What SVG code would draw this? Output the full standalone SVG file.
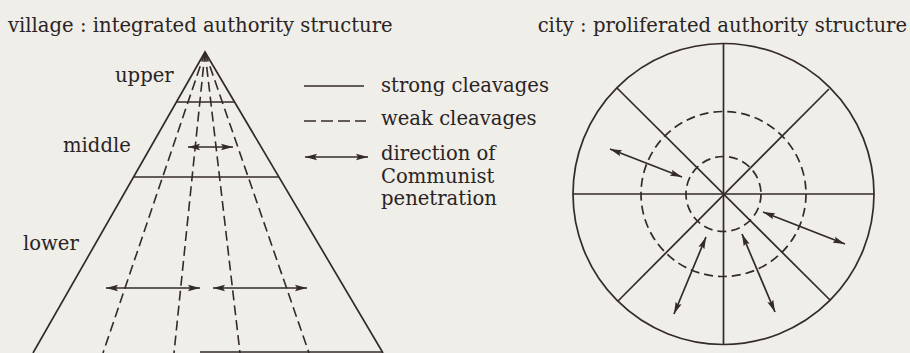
<svg xmlns="http://www.w3.org/2000/svg" width="910" height="353" viewBox="0 0 910 353">
<style>
.bg{fill:#f0eee8}
.s{stroke:#342a2a;stroke-width:1.7;fill:none}
.d{stroke:#342a2a;stroke-width:1.6;fill:none;stroke-dasharray:10 5}
.dc{stroke:#342a2a;stroke-width:1.7;fill:none;stroke-dasharray:9 5}
.a{stroke:#342a2a;stroke-width:1.7;fill:none;marker-start:url(#ah);marker-end:url(#ah)}
text{font-family:"DejaVu Serif","Liberation Serif",serif;font-size:19.6px;fill:#2b2424}
</style>
<defs>
<marker id="ah" markerUnits="userSpaceOnUse" markerWidth="13" markerHeight="8" refX="12" refY="4" orient="auto-start-reverse">
<path d="M0,0.8 L12,4 L0,7.2 L2,4 Z" fill="#342a2a"/>
</marker>
</defs>
<rect class="bg" x="0" y="0" width="910" height="353"/>
<text x="8" y="32">village : integrated authority structure</text>
<text x="907" y="32" text-anchor="end">city : proliferated authority structure</text>
<g id="pyramid">
<path class="s" d="M33,353 L205,52 L383,353"/>
<line class="s" x1="176" y1="102" x2="235" y2="102"/>
<line class="s" x1="133" y1="177" x2="279" y2="177"/>
<line class="s" x1="200" y1="352" x2="383" y2="352"/>
<line class="d" x1="205" y1="52" x2="103" y2="353"/>
<line class="d" x1="205" y1="52" x2="174" y2="353"/>
<line class="d" x1="205" y1="52" x2="240" y2="353"/>
<line class="d" x1="205" y1="52" x2="309" y2="353"/>
<text x="115" y="82">upper</text>
<text x="63" y="152">middle</text>
<text x="23" y="250">lower</text>
</g>
<g id="legend">
<line class="s" x1="304" y1="86" x2="364" y2="86"/>
<line class="d" x1="304" y1="121" x2="366" y2="121" style="stroke-dasharray:12 5"/>
<line class="a" x1="305" y1="157" x2="368" y2="157"/>
<text x="381" y="92">strong cleavages</text>
<text x="381" y="125">weak cleavages</text>
<text x="381" y="160">direction of</text>
<text x="381" y="183">Communist</text>
<text x="381" y="205">penetration</text>
</g>
<g id="city">
<circle class="s" cx="723.5" cy="194" r="150.5"/>
<circle class="dc" cx="723.5" cy="194" r="82.5"/>
<circle class="dc" cx="723.5" cy="194" r="37.5"/>
<line class="s" x1="723.5" y1="43.5" x2="723.5" y2="344.5"/>
<line class="s" x1="573" y1="194" x2="874" y2="194"/>
<line class="s" x1="617" y1="88" x2="830" y2="300"/>
<line class="s" x1="829" y1="89" x2="618" y2="301"/>
</g>
<g id="connectors">
<line class="a" x1="188" y1="147" x2="233" y2="147"/>
<line class="a" x1="106" y1="288" x2="200" y2="288"/>
<line class="a" x1="213" y1="288" x2="307" y2="288"/>
<line class="a" x1="610" y1="149" x2="682" y2="177"/>
<line class="a" x1="763" y1="212" x2="845" y2="244"/>
<line class="a" x1="706" y1="237" x2="674" y2="314"/>
<line class="a" x1="742" y1="234" x2="775" y2="312"/>
</g>
</svg>
